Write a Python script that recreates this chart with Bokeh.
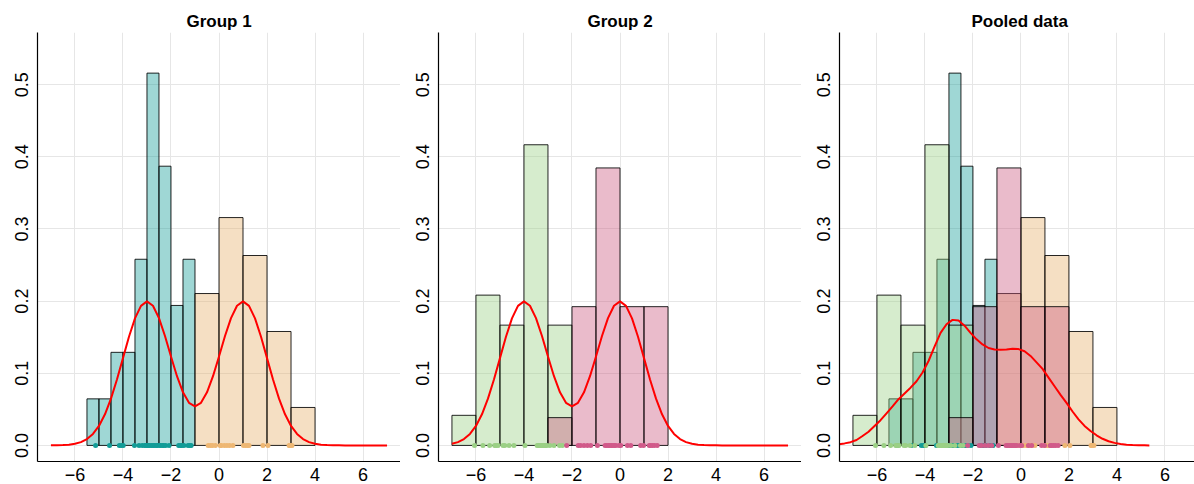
from bokeh.plotting import figure
from bokeh.layouts import row
from bokeh.models import FixedTicker, PrintfTickFormatter, Range1d
from bokeh.embed import file_html
from bokeh.resources import INLINE

# ---------------- data ----------------
x_ticks = [-6, -4, -2, 0, 2, 4, 6]
x_tick_labels = ["\u22126", "\u22124", "\u22122", "0", "2", "4", "6"]
y_ticks = [0.0, 0.1, 0.2, 0.3, 0.4, 0.5]

# Group 1, component A (teal), bin width 0.5
g1a_edges = [-5.5, -5.0, -4.5, -4.0, -3.5, -3.0, -2.5, -2.0, -1.5, -1.0]
g1a_density = [0.0645, 0.0645, 0.129, 0.129, 0.258, 0.516, 0.387, 0.194, 0.258]
# Group 1, component B (orange), bin width 1
g1b_edges = [-1, 0, 1, 2, 3, 4]
g1b_density = [0.2105, 0.3158, 0.2632, 0.1579, 0.0526]
# Group 2, component A (green)
g2a_edges = [-7, -6, -5, -4, -3, -2]
g2a_density = [0.0417, 0.2083, 0.1667, 0.4167, 0.1667]
# Group 2, component B (pink)
g2b_edges = [-3, -2, -1, 0, 1, 2]
g2b_density = [0.0385, 0.1923, 0.3846, 0.1923, 0.1923]

# rug observations
g1a_obs = [-5.14, -4.56, -4.15, -4.07, -3.99, -3.52, -3.33, -3.2, -3.1, -3.04,
           -2.98, -2.93, -2.88, -2.8, -2.74, -2.67, -2.6, -2.55, -2.47, -2.42,
           -2.35, -2.3, -2.22, -2.08, -1.68, -1.6, -1.55, -1.46, -1.29, -1.22, -1.16]
g1b_obs = [-0.45, -0.35, -0.27, -0.15, 0.05, 0.1, 0.22, 0.33, 0.44, 0.58,
           1.02, 1.1, 1.18, 1.25, 1.83, 2.04, 2.92, 2.96, 3.04]
g2a_obs = [-6.06, -5.71, -5.43, -5.22, -5.16, -5.08, -4.87, -4.8, -4.62, -4.42,
           -3.96, -3.45, -3.4, -3.35, -3.3, -3.25, -3.2, -3.15, -3.1, -3.05,
           -2.92, -2.75, -2.52, -2.4]
g2b_obs = [-2.22, -1.74, -1.64, -1.5, -1.36, -1.22, -0.94, -0.62, -0.55, -0.48,
           -0.42, -0.36, -0.3, -0.24, -0.17, -0.04, 0.03, 0.31, 0.45, 0.86,
           0.98, 1.22, 1.28, 1.36, 1.44, 1.55]

# density curves
curve_x = [-7.0, -6.75, -6.5, -6.25, -6.0, -5.75, -5.5, -5.25, -5.0, -4.75,
           -4.5, -4.25, -4.0, -3.75, -3.5, -3.25, -3.0, -2.75, -2.5, -2.25,
           -2.0, -1.75, -1.5, -1.25, -1.0, -0.75, -0.5, -0.25, 0.0, 0.25,
           0.5, 0.75, 1.0, 1.25, 1.5, 1.75, 2.0, 2.25, 2.5, 2.75,
           3.0, 3.25, 3.5, 3.75, 4.0, 4.25, 4.5, 4.75, 5.0, 5.25,
           5.5, 5.75, 6.0, 6.25, 6.5, 6.75, 7.0]
curve1_y = [0.0001, 0.0002, 0.0004, 0.0010, 0.0022, 0.0046, 0.0088, 0.0159, 0.0270, 0.0431,
            0.0648, 0.0913, 0.1210, 0.1506, 0.1760, 0.1934, 0.1996, 0.1936, 0.1764, 0.1516,
            0.1232, 0.0959, 0.0736, 0.0590, 0.0540, 0.0590, 0.0736, 0.0959, 0.1232, 0.1516,
            0.1764, 0.1936, 0.1996, 0.1934, 0.1760, 0.1506, 0.1210, 0.0913, 0.0648, 0.0431,
            0.0270, 0.0159, 0.0088, 0.0046, 0.0022, 0.0010, 0.0004, 0.0002, 0.0001, 0.0,
            0.0, 0.0, 0.0, 0.0, 0.0, 0.0, 0.0]
curve2_y = [0.0022, 0.0046, 0.0088, 0.0159, 0.0270, 0.0431, 0.0648, 0.0913, 0.1210, 0.1506,
            0.1760, 0.1934, 0.1996, 0.1936, 0.1764, 0.1516, 0.1232, 0.0959, 0.0736, 0.0590,
            0.0540, 0.0590, 0.0736, 0.0959, 0.1232, 0.1516, 0.1764, 0.1936, 0.1996, 0.1934,
            0.1760, 0.1506, 0.1210, 0.0913, 0.0648, 0.0431, 0.0270, 0.0159, 0.0088, 0.0046,
            0.0022, 0.0010, 0.0004, 0.0002, 0.0001, 0.0, 0.0, 0.0, 0.0, 0.0,
            0.0, 0.0, 0.0, 0.0, 0.0, 0.0, 0.0]
pooled_x = [-7.6, -7.35, -7.1, -6.85, -6.6, -6.35, -6.1, -5.85, -5.6, -5.35,
            -5.1, -4.85, -4.6, -4.35, -4.1, -3.85, -3.6, -3.35, -3.1, -2.85,
            -2.6, -2.35, -2.1, -1.85, -1.6, -1.35, -1.1, -0.85, -0.6, -0.35,
            -0.1, 0.15, 0.4, 0.65, 0.9, 1.15, 1.4, 1.65, 1.9, 2.15,
            2.4, 2.65, 2.9, 3.15, 3.4, 3.65, 3.9, 4.15, 4.4, 4.65,
            4.9, 5.15, 5.35]
pooled_y = [0.0015, 0.0028, 0.0045, 0.0075, 0.0130, 0.0190, 0.0270, 0.0350, 0.0445, 0.0540,
            0.0640, 0.0720, 0.0800, 0.0890, 0.1010, 0.1170, 0.1370, 0.1560, 0.1680, 0.1740,
            0.1730, 0.1660, 0.1560, 0.1470, 0.1400, 0.1350, 0.1330, 0.1325, 0.1330, 0.1340,
            0.1335, 0.1305, 0.1240, 0.1150, 0.1060, 0.0940, 0.0820, 0.0700, 0.0590, 0.0470,
            0.0360, 0.0270, 0.0200, 0.0140, 0.0092, 0.0058, 0.0035, 0.0020, 0.0010, 0.0005,
            0.0002, 0.0001, 0.0]

# ---------------- styles ----------------
TEAL = "#0f9b96"
ORANGE = "#e6af69"
GREEN = "#98cf82"
PINK = "#ca557d"
RUG_TEAL = "#129c97"
RUG_ORANGE = "#eeb773"
RUG_GREEN = "#9bd085"
RUG_PINK = "#d15a8a"
FONT = "Liberation Sans"


def make_fig(width, left_border, x_end, title, align="center", offset=0):
    p = figure(width=width, height=484,
               x_range=Range1d(-7.56, x_end), y_range=Range1d(-0.0223, 0.5723),
               output_backend="svg", toolbar_location=None,
               min_border_left=left_border, min_border_right=0,
               min_border_top=32, min_border_bottom=23,
               background_fill_color="white", border_fill_color="white",
               title=title)
    p.outline_line_color = None
    p.title.align = align
    p.title.offset = offset
    p.title.standoff = 4
    p.title.text_font = FONT
    p.title.text_font_style = "bold"
    p.title.text_font_size = "17px"
    p.title.text_color = "black"

    p.xaxis.ticker = FixedTicker(ticks=x_ticks)
    p.xaxis.major_label_overrides = {t: s for t, s in zip(x_ticks, x_tick_labels)}
    p.yaxis.ticker = FixedTicker(ticks=y_ticks)
    p.yaxis.formatter = PrintfTickFormatter(format="%.1f")
    p.yaxis.major_label_orientation = "vertical"
    for ax in (p.xaxis, p.yaxis):
        ax.major_tick_out = 0
        ax.major_tick_in = 0
        ax.minor_tick_line_color = None
        ax.major_tick_line_color = None
        ax.axis_line_color = "black"
        ax.axis_line_width = 1.2
        ax.major_label_text_font = FONT
        ax.major_label_text_font_size = "18px"
        ax.major_label_text_color = "black"
    p.xaxis.major_label_standoff = 6
    p.yaxis.major_label_standoff = 9

    p.xgrid.ticker = FixedTicker(ticks=x_ticks)
    p.ygrid.ticker = FixedTicker(ticks=y_ticks)
    p.grid.grid_line_color = "#e6e6e6"
    p.grid.grid_line_width = 1
    return p


def bars(p, edges, dens, color):
    p.quad(left=edges[:-1], right=edges[1:], top=dens, bottom=0,
           fill_color=color, fill_alpha=0.4,
           line_color="black", line_alpha=0.85, line_width=1)


def rug(p, obs, color):
    p.scatter(x=obs, y=[0] * len(obs), size=5, fill_color=color, line_color=None)


# Group 1
p1 = make_fig(400, 37, 7.56, "Group 1")
bars(p1, g1a_edges, g1a_density, TEAL)
bars(p1, g1b_edges, g1b_density, ORANGE)
p1.line(curve_x, curve1_y, line_color="red", line_width=2)
rug(p1, g1a_obs, RUG_TEAL)
rug(p1, g1b_obs, RUG_ORANGE)

# Group 2
p2 = make_fig(401, 38, 7.56, "Group 2")
bars(p2, g2a_edges, g2a_density, GREEN)
bars(p2, g2b_edges, g2b_density, PINK)
p2.line(curve_x, curve2_y, line_color="red", line_width=2)
rug(p2, g2a_obs, RUG_GREEN)
rug(p2, g2b_obs, RUG_PINK)

# Pooled
p3 = make_fig(393, 38, -7.56 + 355 / 24.0, "Pooled data", align="left", offset=132)
bars(p3, g1a_edges, g1a_density, TEAL)
bars(p3, g1b_edges, g1b_density, ORANGE)
bars(p3, g2a_edges, g2a_density, GREEN)
bars(p3, g2b_edges, g2b_density, PINK)
p3.line(pooled_x, pooled_y, line_color="red", line_width=2)
rug(p3, g1a_obs, RUG_TEAL)
rug(p3, g1b_obs, RUG_ORANGE)
rug(p3, g2a_obs, RUG_GREEN)
rug(p3, g2b_obs, RUG_PINK)

layout = row(p1, p2, p3)
open("out.html", "w").write(file_html(layout, INLINE))
